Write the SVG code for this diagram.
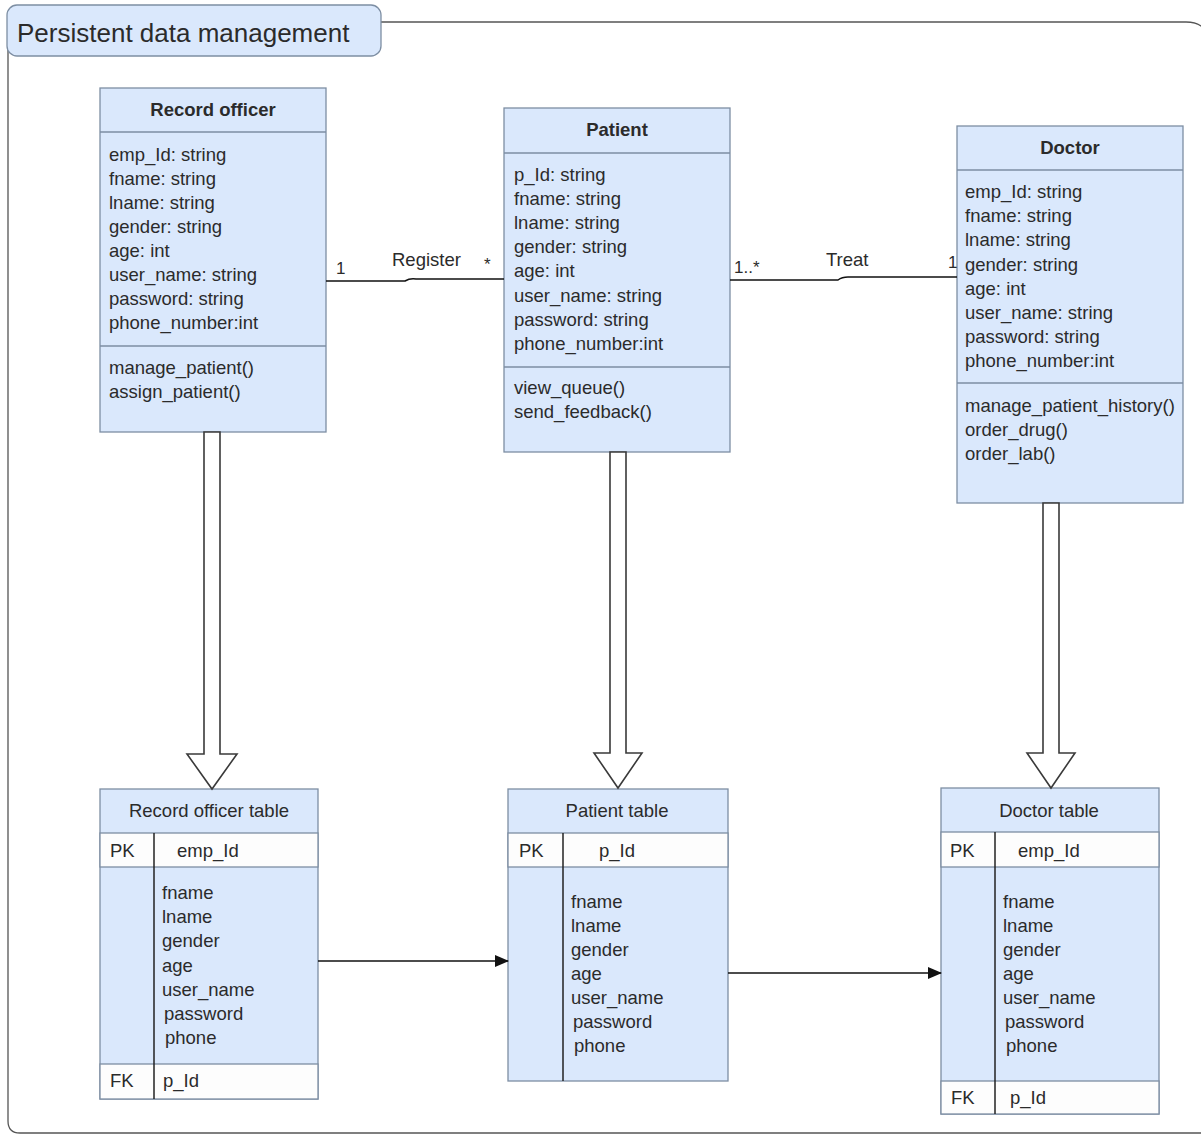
<svg xmlns="http://www.w3.org/2000/svg" width="1201" height="1135" viewBox="0 0 1201 1135">
  <style>
    .box { fill: #dae8fc; stroke: #7d8ea3; stroke-width: 1.3; }
    .row { fill: #fdfdfd; stroke: #7d8ea3; stroke-width: 1.3; }
    .sep { stroke: #7d8ea3; stroke-width: 1.3; fill: none; }
    .col { stroke: #222; stroke-width: 1.5; fill: none; }
    text { font-family: "Liberation Sans", Arial, sans-serif; font-size: 18.5px; fill: #2b2b2b; }
    .title { font-weight: bold; text-anchor: middle; }
    .mid { text-anchor: middle; }
    .lbl { font-size: 18.5px; }
    .mult { font-size: 17px; }
    .hollow { fill: #ffffff; stroke: #3a3a3a; stroke-width: 1.6; }
    .link { stroke: #111; stroke-width: 1.5; fill: none; }
  </style>
  <defs>
    <marker id="solidHead" markerWidth="14" markerHeight="12" refX="13" refY="6" orient="auto" markerUnits="userSpaceOnUse">
      <path d="M0,0 L14,6 L0,12 Z" fill="#111"/>
    </marker>
  </defs>

  <rect width="1201" height="1135" fill="#ffffff"/>

  <!-- package frame -->
  <g id="frame">
    <path d="M381,22 L1186,22 Q1201,22 1206,32 L1206,1133 L20,1133 Q8,1133 8,1121 L8,50" fill="none" stroke="#555" stroke-width="1.3"/>
    <rect x="7" y="5" width="374" height="51" rx="10" ry="10" fill="#dae8fc" stroke="#7d8ea3" stroke-width="1.3"/>
    <text x="17" y="42" style="font-size:26px">Persistent data management</text>
  </g>

  <!-- class: Record officer -->
  <g id="record-officer">
    <rect class="box" x="100" y="88" width="226" height="344"/>
    <line class="sep" x1="100" y1="132" x2="326" y2="132"/>
    <line class="sep" x1="100" y1="346" x2="326" y2="346"/>
    <text class="title" x="213" y="116">Record officer</text>
    <text x="109" y="161">emp_Id: string</text>
    <text x="109" y="185">fname: string</text>
    <text x="109" y="209">lname: string</text>
    <text x="109" y="233">gender: string</text>
    <text x="109" y="257">age: int</text>
    <text x="109" y="281">user_name: string</text>
    <text x="109" y="305">password: string</text>
    <text x="109" y="329">phone_number:int</text>
    <text x="109" y="374">manage_patient()</text>
    <text x="109" y="398">assign_patient()</text>
  </g>

  <!-- class: Patient -->
  <g id="patient">
    <rect class="box" x="504" y="108" width="226" height="344"/>
    <line class="sep" x1="504" y1="153" x2="730" y2="153"/>
    <line class="sep" x1="504" y1="367" x2="730" y2="367"/>
    <text class="title" x="617" y="136">Patient</text>
    <text x="514" y="181">p_Id: string</text>
    <text x="514" y="205">fname: string</text>
    <text x="514" y="229">lname: string</text>
    <text x="514" y="253">gender: string</text>
    <text x="514" y="277">age: int</text>
    <text x="514" y="302">user_name: string</text>
    <text x="514" y="326">password: string</text>
    <text x="514" y="350">phone_number:int</text>
    <text x="514" y="394">view_queue()</text>
    <text x="514" y="418">send_feedback()</text>
  </g>

  <!-- class: Doctor -->
  <g id="doctor">
    <rect class="box" x="957" y="126" width="226" height="377"/>
    <line class="sep" x1="957" y1="170" x2="1183" y2="170"/>
    <line class="sep" x1="957" y1="383" x2="1183" y2="383"/>
    <text class="title" x="1070" y="154">Doctor</text>
    <text x="965" y="198">emp_Id: string</text>
    <text x="965" y="222">fname: string</text>
    <text x="965" y="246">lname: string</text>
    <text x="965" y="271">gender: string</text>
    <text x="965" y="295">age: int</text>
    <text x="965" y="319">user_name: string</text>
    <text x="965" y="343">password: string</text>
    <text x="965" y="367">phone_number:int</text>
    <text x="965" y="412">manage_patient_history()</text>
    <text x="965" y="436">order_drug()</text>
    <text x="965" y="460">order_lab()</text>
  </g>

  <!-- table: Record officer table -->
  <g id="record-officer-table">
    <rect class="box" x="100" y="789" width="218" height="310"/>
    <rect class="row" x="100" y="833" width="218" height="34"/>
    <rect class="row" x="100" y="1064" width="218" height="35"/>
    <line class="col" x1="154" y1="833" x2="154" y2="1099"/>
    <text class="mid" x="209" y="817">Record officer table</text>
    <text x="110" y="857">PK</text>
    <text x="177" y="857">emp_Id</text>
    <text x="162" y="899">fname</text>
    <text x="162" y="923">lname</text>
    <text x="162" y="947">gender</text>
    <text x="162" y="972">age</text>
    <text x="162" y="996">user_name</text>
    <text x="164" y="1020">password</text>
    <text x="165" y="1044">phone</text>
    <text x="110" y="1087">FK</text>
    <text x="163" y="1087">p_Id</text>
  </g>

  <!-- table: Patient table -->
  <g id="patient-table">
    <rect class="box" x="508" y="789" width="220" height="292"/>
    <rect class="row" x="508" y="833" width="220" height="34"/>
    <line class="col" x1="563" y1="833" x2="563" y2="1081"/>
    <text class="mid" x="617" y="817">Patient table</text>
    <text x="519" y="857">PK</text>
    <text x="599" y="857">p_Id</text>
    <text x="571" y="908">fname</text>
    <text x="571" y="932">lname</text>
    <text x="571" y="956">gender</text>
    <text x="571" y="980">age</text>
    <text x="571" y="1004">user_name</text>
    <text x="573" y="1028">password</text>
    <text x="574" y="1052">phone</text>
  </g>

  <!-- table: Doctor table -->
  <g id="doctor-table">
    <rect class="box" x="941" y="788" width="218" height="326"/>
    <rect class="row" x="941" y="832" width="218" height="35"/>
    <rect class="row" x="941" y="1081" width="218" height="33"/>
    <line class="col" x1="995" y1="832" x2="995" y2="1114"/>
    <text class="mid" x="1049" y="817">Doctor table</text>
    <text x="950" y="857">PK</text>
    <text x="1018" y="857">emp_Id</text>
    <text x="1003" y="908">fname</text>
    <text x="1003" y="932">lname</text>
    <text x="1003" y="956">gender</text>
    <text x="1003" y="980">age</text>
    <text x="1003" y="1004">user_name</text>
    <text x="1005" y="1028">password</text>
    <text x="1006" y="1052">phone</text>
    <text x="951" y="1104">FK</text>
    <text x="1010" y="1104">p_Id</text>
  </g>

  <!-- connectors -->
  <g id="connectors">
    <!-- Register association -->
    <path class="link" d="M326,281 L405,281 Q410,278 416,279 L504,279" stroke="#333"/>
    <text class="mult" x="336" y="274">1</text>
    <text class="lbl" x="392" y="266">Register</text>
    <text class="mult" x="484" y="270">*</text>

    <!-- Treat association -->
    <path class="link" d="M730,280 L838,280 Q842,277 848,277 L957,277" stroke="#333"/>
    <text class="mult" x="734" y="273">1..*</text>
    <text class="lbl" x="826" y="266">Treat</text>
    <text class="mult" x="948" y="268">1</text>

    <!-- class to table mappings (hollow block arrows) -->
    <path class="hollow" d="M204,432 L204,754 L187,754 L212,789 L237,754 L220,754 L220,432 Z"/>
    <path class="hollow" d="M610,452 L610,753 L594,753 L618,788 L642,753 L626,753 L626,452 Z"/>
    <path class="hollow" d="M1043,503 L1043,753 L1027,753 L1051,788 L1075,753 L1059,753 L1059,503 Z"/>

    <!-- table references -->
    <line class="link" x1="318" y1="961" x2="508" y2="961" marker-end="url(#solidHead)"/>
    <line class="link" x1="728" y1="973" x2="941" y2="973" marker-end="url(#solidHead)"/>
  </g>
</svg>
